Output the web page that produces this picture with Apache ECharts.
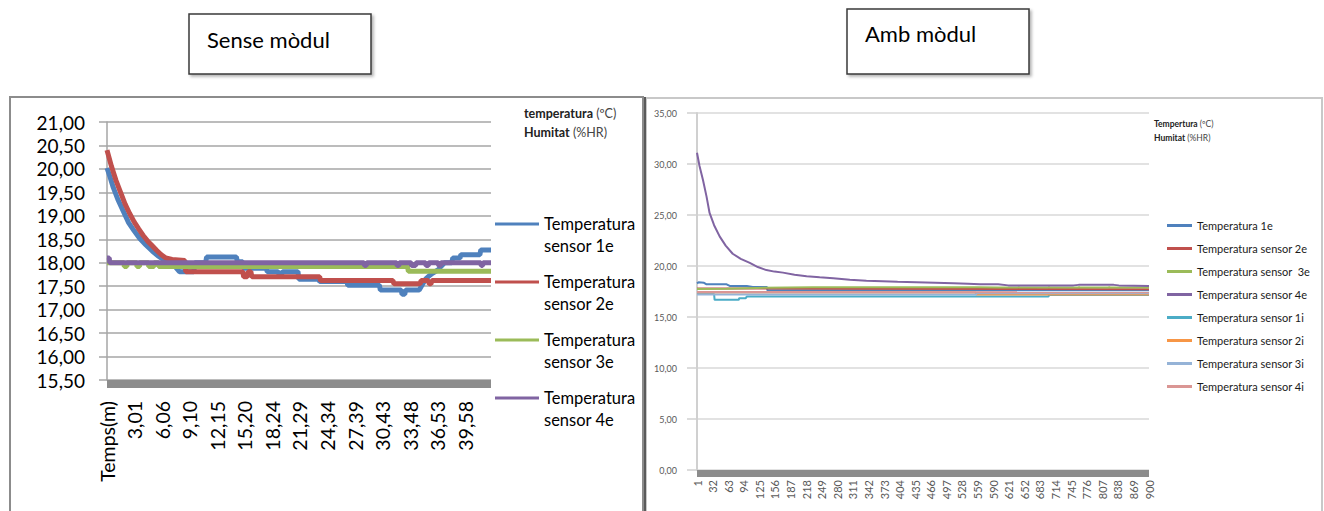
<!DOCTYPE html>
<html><head><meta charset="utf-8">
<script src="https://cdn.jsdelivr.net/npm/echarts@6/dist/echarts.min.js"></script>
<style>html,body{margin:0;padding:0;background:#fff}#c{width:1324px;height:511px}</style>
</head><body><div id="c"></div>
<script>
const FONT = 'Lato, "Noto Sans", sans-serif';

// ---------- Left chart: "Sense mòdul" (time in minutes) ----------
const leftTickLabels = ['Temps(m)','3,01','6,06','9,10','12,15','15,20','18,24','21,29','24,34','27,39','30,43','33,48','36,53','39,58'];
const leftTickStep = 3.0458;
const leftTimeMax = 42.43;
const leftNames = ['Temperatura\nsensor 1e','Temperatura\nsensor 2e','Temperatura\nsensor 3e','Temperatura\nsensor 4e'];
const leftColors = ['#4F81BD','#C0504D','#9BBB59','#8064A2'];

const sense1e = [[0,20.02],[0.3,19.85],[0.7,19.6],[1.2,19.35],[1.8,19.1],[2.4,18.85],[3.0,18.68],[3.6,18.52],[4.3,18.38],[5.0,18.25],[5.6,18.15],[6.3,18.06],[7.0,18.0],[7.6,17.9],[8.0,17.81],[9.6,17.81],[9.7,18.0],[10.9,18.0],[11.0,18.12],[14.3,18.12],[14.4,18.02],[15.0,18.02],[15.1,17.88],[17.6,17.88],[17.7,17.81],[18.9,17.81],[19.0,17.75],[19.3,17.75],[19.4,17.81],[21.1,17.81],[21.2,17.65],[23.4,17.65],[23.5,17.6],[26.5,17.6],[26.6,17.52],[30.1,17.52],[30.2,17.42],[32.5,17.42],[32.6,17.33],[32.9,17.33],[33.0,17.42],[34.5,17.42],[34.9,17.55],[35.2,17.65],[35.6,17.72],[36.0,17.78],[36.6,17.85],[36.9,17.92],[37.3,18.0],[38.1,18.0],[38.2,18.1],[39.0,18.1],[39.1,18.17],[41.2,18.17],[41.3,18.27],[42.43,18.27]];
const sense2e = [[0,20.4],[0.5,20.05],[1.0,19.75],[1.5,19.5],[2.0,19.25],[2.5,19.05],[3.0,18.87],[3.5,18.72],[4.0,18.58],[4.5,18.46],[5.0,18.36],[5.5,18.26],[6.0,18.17],[6.5,18.1],[7.2,18.07],[8.6,18.05],[8.7,17.81],[15.0,17.81],[15.1,17.7],[15.5,17.7],[15.6,17.81],[15.9,17.81],[16.0,17.7],[23.5,17.7],[23.6,17.62],[31.6,17.62],[31.7,17.55],[34.6,17.55],[34.7,17.62],[35.5,17.62],[35.6,17.55],[35.8,17.55],[35.9,17.62],[42.43,17.62]];
const sense3e = [[0,18.0],[1.9,18.0],[1.9,17.92],[2.2,17.92],[2.2,18.0],[3.3,18.0],[3.3,17.92],[3.6,17.92],[3.6,18.0],[4.6,18.0],[4.6,17.92],[5.2,17.92],[5.2,18.0],[5.7,18.0],[5.7,17.92],[33.2,17.92],[33.3,17.82],[42.43,17.82]];
const sense4e = [[0,18.1],[0.25,18.1],[0.3,18.0],[28.4,18.0],[28.45,17.94],[28.65,17.94],[28.7,18.0],[32.0,18.0],[32.05,17.94],[32.25,17.94],[32.3,18.0],[33.6,18.0],[33.65,17.94],[34.1,17.94],[34.15,18.0],[35.2,18.0],[35.25,17.94],[35.5,17.94],[35.55,18.0],[36.6,18.0],[36.65,17.94],[36.85,17.94],[36.9,18.0],[41.3,18.0],[41.35,17.94],[41.5,17.94],[41.55,18.0],[42.43,18.0]];
const leftData = [sense1e, sense2e, sense3e, sense4e];

// ---------- Right chart: "Amb mòdul" (sample number) ----------
const rightSampleCount = 900;
const rightNames = ['Temperatura 1e','Temperatura sensor 2e','Temperatura sensor  3e','Temperatura sensor 4e','Temperatura sensor 1i','Temperatura sensor 2i','Temperatura sensor 3i','Temperatura sensor 4i'];
const rightColors = ['#4F81BD','#C0504D','#9BBB59','#8064A2','#4BACC6','#F79646','#95B3D7','#DA9694'];

const amb1e = [[1,18.3],[4,18.4],[15,18.35],[20,18.2],[60,18.2],[66,18.05],[100,18.05],[112,17.95],[140,17.95],[141,17.62],[900,17.62]];
const amb2e = [[1,17.8],[300,17.78],[640,17.75],[900,17.72]];
const amb3e = [[1,17.75],[60,17.78],[120,17.85],[230,17.92],[560,17.92],[600,17.9],[640,17.9],[641,17.97],[642,17.9],[700,17.9],[701,17.97],[702,17.9],[760,17.9],[761,17.96],[762,17.9],[820,17.9],[821,17.96],[822,17.9],[900,17.9]];
const amb4e = [[1,31.1],[6,29.8],[13,28.4],[20,26.8],[26,25.2],[35,24.0],[46,22.9],[58,22.0],[72,21.2],[88,20.7],[106,20.3],[122,19.9],[139,19.6],[155,19.45],[172,19.35],[195,19.15],[219,19.0],[245,18.9],[272,18.8],[305,18.65],[338,18.55],[370,18.5],[400,18.45],[437,18.4],[475,18.35],[511,18.3],[540,18.25],[564,18.2],[600,18.2],[620,18.1],[750,18.1],[760,18.15],[830,18.15],[840,18.1],[900,18.05]];
const amb1i = [[1,17.25],[35,17.25],[36,16.68],[84,16.68],[85,16.85],[98,16.85],[100,17.0],[700,17.0],[701,17.15],[900,17.15]];
const amb2i = [[1,17.4],[555,17.4],[556,17.2],[900,17.2]];
const amb3i = [[1,17.2],[556,17.2],[557,17.32],[900,17.32]];
const amb4i = [[1,17.45],[900,17.42]];
const rightData = [amb1e, amb2e, amb3e, amb4e, amb1i, amb2i, amb3i, amb4i];

// ---------- build ----------
const rightCategories = [];
for (let s = 1; s <= rightSampleCount; s++) rightCategories.push(String(s));
const comma2 = v => v.toFixed(2).replace('.', ',');

const series = [];
leftData.forEach((d, k) => series.push({
  type: 'line', name: leftNames[k], xAxisIndex: 0, yAxisIndex: 0,
  data: d, showSymbol: false, symbol: 'none', color: leftColors[k],
  lineStyle: { width: 5, color: leftColors[k] }, animation: false
}));
rightData.forEach((d, k) => series.push({
  type: 'line', name: rightNames[k], xAxisIndex: 1, yAxisIndex: 1,
  data: d.map(p => [p[0] - 1, p[1]]), showSymbol: false, symbol: 'none', color: rightColors[k],
  lineStyle: { width: 2, color: rightColors[k] }, animation: false
}));

const option = {
  animation: false,
  backgroundColor: '#fff',
  textStyle: { fontFamily: FONT },
  grid: [
    { left: 107, top: 122, width: 384, height: 258, outerBoundsMode: 'none', containLabel: false },
    { left: 697, top: 113, width: 452, height: 357, outerBoundsMode: 'none', containLabel: false }
  ],
  xAxis: [
    { type: 'value', gridIndex: 0, min: 0, max: leftTimeMax, interval: leftTickStep, offset: 4,
      axisLine: { show: true, onZero: false, lineStyle: { color: '#8c8c8c', width: 8, cap: 'butt' } },
      axisTick: { show: false }, splitLine: { show: false },
      axisLabel: { rotate: 90, margin: 17, fontSize: 19.5, color: '#000', fontFamily: FONT,
        showMinLabel: true, hideOverlap: false,
        formatter: function (v) {
          const i = Math.round(v / leftTickStep);
          if (Math.abs(v - i * leftTickStep) > 0.01 || i >= leftTickLabels.length) return '';
          return leftTickLabels[i];
        } } },
    { type: 'category', gridIndex: 1, data: rightCategories, boundaryGap: false, offset: 3,
      axisLine: { show: true, onZero: false, lineStyle: { color: '#8c8c8c', width: 7, cap: 'butt' } },
      axisTick: { show: false }, splitLine: { show: false },
      axisLabel: { interval: 30, rotate: 90, margin: 7, fontSize: 11, color: '#595959', fontFamily: FONT, hideOverlap: false } }
  ],
  yAxis: [
    { type: 'value', gridIndex: 0, min: 15.5, max: 21, interval: 0.5,
      axisLine: { show: true, lineStyle: { color: '#a6a6a6', width: 1.5 } },
      axisTick: { show: true, length: 8, lineStyle: { color: '#a6a6a6', width: 1.5 } },
      splitLine: { show: true, lineStyle: { color: '#a6a6a6', width: 1.5 } },
      axisLabel: { margin: 22, fontSize: 19, color: '#000', fontFamily: FONT, formatter: comma2 } },
    { type: 'value', gridIndex: 1, min: 0, max: 35, interval: 5,
      axisLine: { show: true, lineStyle: { color: '#d0d0d0', width: 2 } },
      axisTick: { show: true, length: 10, lineStyle: { color: '#d0d0d0', width: 1.5 } },
      splitLine: { show: true, lineStyle: { color: '#d9d9d9', width: 1.5 } },
      axisLabel: { margin: 20, fontSize: 9, color: '#595959', fontFamily: FONT, formatter: comma2 } }
  ],
  legend: [
    { data: leftNames, orient: 'vertical', left: 495, top: 191, padding: 0, itemGap: -8,
      itemWidth: 44, itemHeight: 3, icon: 'rect', selectedMode: false,
      formatter: name => '\n' + name,
      textStyle: { fontSize: 16.5, lineHeight: 22, color: '#000', fontFamily: FONT } },
    { data: rightNames, orient: 'vertical', left: 1167, top: 219, padding: 0, itemGap: 10,
      itemWidth: 25, itemHeight: 3, icon: 'rect', selectedMode: false,
      textStyle: { fontSize: 11, lineHeight: 13, color: '#1a1a1a', fontFamily: FONT } }
  ],
  graphic: [
    { type: 'rect', shape: { x: 10, y: 97, width: 633, height: 440 }, silent: true,
      style: { fill: 'none', stroke: '#8c8c8c', lineWidth: 2 } },
    { type: 'rect', shape: { x: 646, y: 98, width: 676, height: 440 }, silent: true,
      style: { fill: 'none', stroke: '#c8c8c8', lineWidth: 2 } },
    { type: 'line', shape: { x1: 645, y1: 97, x2: 645, y2: 511 }, silent: true,
      style: { stroke: '#5a5a5a', lineWidth: 2 } },
    { type: 'rect', shape: { x: 189, y: 14, width: 182, height: 60 }, silent: true,
      style: { fill: '#fff', stroke: '#3a3a3a', lineWidth: 1.5, shadowBlur: 3, shadowOffsetX: 2, shadowOffsetY: 2, shadowColor: 'rgba(0,0,0,0.3)' } },
    { type: 'text', x: 207, y: 39, silent: true,
      style: { text: 'Sense mòdul', fontSize: 22, fontFamily: FONT, fill: '#000', verticalAlign: 'middle' } },
    { type: 'rect', shape: { x: 847, y: 9, width: 182, height: 65 }, silent: true,
      style: { fill: '#fff', stroke: '#3a3a3a', lineWidth: 1.5, shadowBlur: 3, shadowOffsetX: 2, shadowOffsetY: 2, shadowColor: 'rgba(0,0,0,0.3)' } },
    { type: 'text', x: 865, y: 33, silent: true,
      style: { text: 'Amb mòdul', fontSize: 22, fontFamily: FONT, fill: '#000', verticalAlign: 'middle' } },
    { type: 'text', x: 524, y: 104, silent: true,
      style: { text: '{b|temperatura} {n|(ºC)}\n{b|Humitat} {n|(%HR)}', fontSize: 12.5, lineHeight: 19, fontFamily: FONT, fill: '#222',
        verticalAlign: 'top',
        rich: { b: { fontWeight: 'bold', fontSize: 12.5, lineHeight: 19, fontFamily: FONT, fill: '#222' }, n: { fontSize: 12.5, lineHeight: 19, fontFamily: FONT, fill: '#444' } } } },
    { type: 'text', x: 1154, y: 117, silent: true,
      style: { text: '{b|Tempertura} {n|(ºC)}\n{b|Humitat} {n|(%HR)}', fontSize: 8.5, lineHeight: 14, fontFamily: FONT, fill: '#222',
        verticalAlign: 'top',
        rich: { b: { fontWeight: 'bold', fontSize: 8.5, lineHeight: 14, fontFamily: FONT, fill: '#222' }, n: { fontSize: 8.5, lineHeight: 14, fontFamily: FONT, fill: '#444' } } } }
  ],
  series: series
};

const chart = echarts.init(document.getElementById('c'), null, { renderer: 'svg', width: 1324, height: 511 });
chart.setOption(option);
</script>
</body></html>
